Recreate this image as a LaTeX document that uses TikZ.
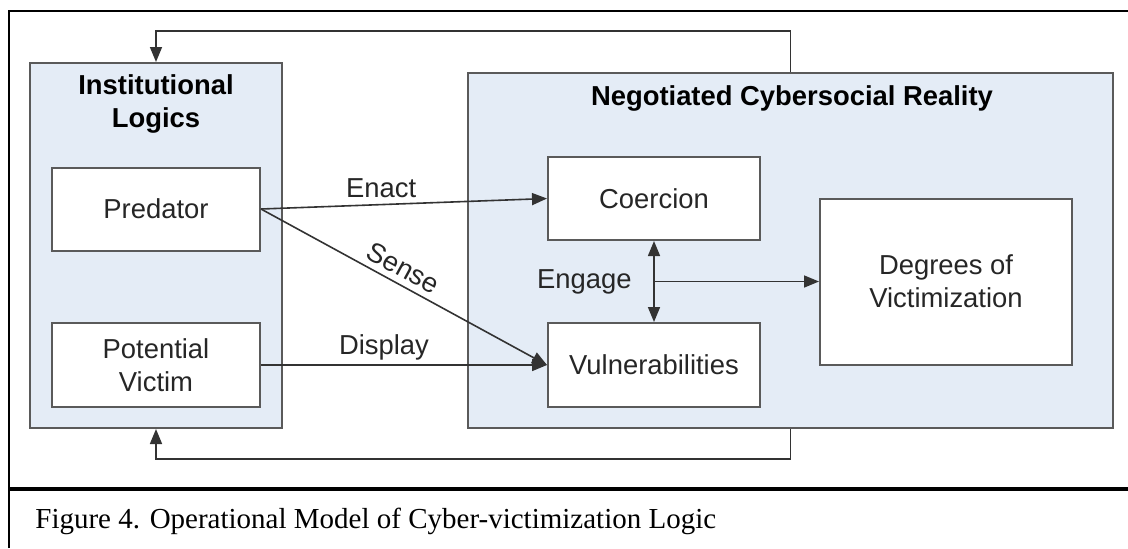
\documentclass[tikz,border=0pt]{standalone}
\usepackage{fontspec}
\setmainfont{Liberation Serif}
\newfontfamily\arialfont{Liberation Sans}
\usetikzlibrary{arrows.meta,calc}
\definecolor{panelblue}{RGB}{228,236,246}
\definecolor{edgegray}{RGB}{90,90,90}
\begin{document}
\begin{tikzpicture}[x=0.5pt,y=-0.5pt,
	panel/.style = {draw=edgegray, line width=1pt, fill=panelblue, inner sep=0pt},
	box/.style = {draw=edgegray, line width=1pt, fill=white, align=center, inner sep=0pt, text=black!85, font=\arialfont\fontsize{13.7}{16.5}\selectfont},
	lbl/.style = {inner sep=1pt, text=black!85, font=\arialfont\fontsize{13.7}{16.5}\selectfont},
	ttl/.style = {align=center, font=\arialfont\bfseries\fontsize{13.7}{16.5}\selectfont},
	arr/.style = {draw=black!80, line width=0.8pt, -{Triangle[length=7.5pt,width=6pt]}}]
		\useasboundingbox (0,0) rectangle (1128,548);
		%Kehys
		\draw[line width=1.2pt] (9,548) -- (9,11) -- (1128,11);
		\draw[line width=1.6pt] (9,489) -- (1128,489);
		\node[anchor=west, inner sep=0pt, font=\fontsize{14.5}{17}\selectfont] (cap) at (35,521) {Figure 4. Operational Model of Cyber-victimization Logic};
		% Paneelit
		\node[panel, minimum width=126pt, minimum height=182.5pt] (il) at (156,245.5) {};
		\node[panel, minimum width=322.5pt, minimum height=177.5pt] (ncr) at (790.5,250.5) {};
		\node[ttl] (iltitle) at (156,104) {Institutional\\Logics};
		\node[ttl] (ncrtitle) at (792,98) {Negotiated Cybersocial Reality};
		% Laatikot
		\node[box, minimum width=104pt, minimum height=41.5pt] (pred) at (156,209) {Predator};
		\node[box, minimum width=104pt, minimum height=42pt] (pv) at (156,365) {Potential\\Victim};
		\node[box, minimum width=106pt, minimum height=41.5pt] (coer) at (654,198.5) {Coercion};
		\node[box, minimum width=106pt, minimum height=42pt] (vul) at (654,365) {Vulnerabilities};
		\node[box, minimum width=126pt, minimum height=83pt] (deg) at (946,281.5) {Degrees of\\Victimization};
		% Nuolet
		\draw[arr] (pred.east) -- node[lbl, pos=0.42, above=2pt] {Enact} (coer.west);	% enact
		\draw[arr] (pred.east) -- node[lbl, pos=0.47, above=2pt, sloped] {Sense} (vul.west);	% sense
		\draw[arr] (pv.east) -- node[lbl, pos=0.43, above=1pt] {Display} (vul.west);	% display
		\draw[arr, {Triangle[length=7.5pt,width=6pt]}-{Triangle[length=7.5pt,width=6pt]}] (coer.south) -- (vul.north);	% engage
		\coordinate (eng) at ($(coer.south)!0.5!(vul.north)$);
		\node[lbl, left=10pt] (englbl) at (eng) {Engage};
		\draw[arr] (eng) -- (eng -| deg.west);
		% Palaute
		\draw[arr] (ncr.north) -- ++(0,-41) -| (il.north);
		\draw[arr] (ncr.south) -- ++(0,30) -| (il.south);
\end{tikzpicture}
\end{document}
